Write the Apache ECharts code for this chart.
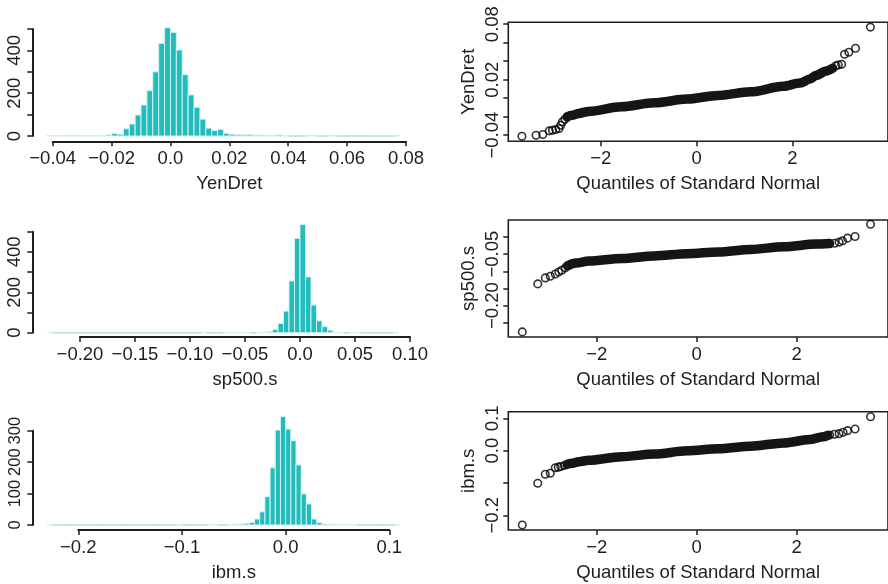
<!DOCTYPE html>
<html><head><meta charset="utf-8">
<script src="https://cdn.jsdelivr.net/npm/echarts@6/dist/echarts.min.js"></script>
<style>html,body{margin:0;padding:0;background:#fff}#c{width:888px;height:584px}</style>
</head><body><div id="c"></div>
<script>
// ---------------- DATA ----------------
const varNames = ['YenDret', 'sp500.s', 'ibm.s'];
const qqXName = 'Quantiles of Standard Normal';

// histogram bins: first break, bin width, counts
const yenBreakStart = -0.042, yenBreakWidth = 0.002;
const yenCounts = [2,1,1,3,3,1,1,1,1,2, 5,11,8,34,56,98,145,212,300,433,
  506,484,402,287,192,134,79,37,25,30, 12,8,6,5,6,4,4,3,3,5,
  1,0,0,0,1,1,0,0,1,0, 0,0,0,0,0,0,0,0,0,1];
const spBreakStart = -0.230, spBreakWidth = 0.005;
const spCounts = [1,0,0,0,0,0,0,0,0,0, 0,0,0,0,0,0,0,0,0,0,
  0,0,0,0,0,0,0,0,1,0, 0,0,1,1,1,1,1,0,1,3,
  5,16,46,107,256,467,536,276,137,59, 30,12,3,1,0,1,1,0,0,0, 0,0,0,1];
const ibmBreakStart = -0.230, ibmBreakWidth = 0.005;
const ibmCounts = [1,0,0,0,0,0,0,0,0,0, 0,0,0,0,0,0,0,0,0,0,
  0,0,0,0,0,1,0,0,0,0, 0,1,1,0,0,2,2,3,5,8,
  19,42,90,182,302,345,305,268,191,99, 67,19,8,3,2,2,1,1,1,1,
  0,0,0,0,0,0,0,1];

// histogram axis ticks / labels
const yenHistXTicks = [-0.04,-0.02,0,0.02,0.04,0.06,0.08];
const yenHistXLabels = ['\u22120.04','\u22120.02','0.0','0.02','0.04','0.06','0.08'];
const spHistXTicks = [-0.20,-0.15,-0.10,-0.05,0,0.05,0.10];
const spHistXLabels = ['\u22120.20','\u22120.15','\u22120.10','\u22120.05','0.0','0.05','0.10'];
const ibmHistXTicks = [-0.2,-0.1,0,0.1];
const ibmHistXLabels = ['\u22120.2','\u22120.1','0.0','0.1'];
const histYTicks500 = [0,100,200,300,400,500];
const histYLabelVals500 = [0,200,400];
const histYLabels500 = ['0','200','400'];
const histYTicks300 = [0,100,200,300];
const histYLabels300 = ['0','100','200','300'];

// QQ plots: individually visible points and the dense central run
const yenQQPoints = [[-3.645,-0.0411],[-3.35,-0.0400],[-3.21,-0.0393],[-3.076,-0.0353],[-3.008,-0.0346],
  [-2.938,-0.0338],[-2.87,-0.0327],[-2.836,-0.0292],[-2.802,-0.0256],[-2.747,-0.0227],
  [2.91,0.0351],[2.96,0.0359],[3.03,0.0366],[3.09,0.0475],[3.18,0.0497],[3.32,0.0540],[3.63,0.0768]];
const yenQQBand = [[-2.70,-0.0202],[-2.60,-0.0185],[-2.46,-0.0165],[-2.254,-0.0143],[-1.569,-0.0093],
  [-0.884,-0.0050],[-0.199,-0.0010],[0.445,0.0030],[1.13,0.0069],[1.81,0.0128],[2.16,0.0164],
  [2.37,0.0207],[2.50,0.0247],[2.71,0.0294],[2.84,0.0323]];
const spQQPoints = [[-3.49,-0.2767],[-3.18,-0.1367],[-3.03,-0.1193],[-2.93,-0.1146],[-2.83,-0.108],
  [-2.76,-0.102],[-2.70,-0.097],[-2.63,-0.090],[2.76,-0.018],[2.85,-0.015],[2.92,-0.0112],
  [3.02,-0.0033],[3.17,0.0013],[3.48,0.0372]];
const spQQBand = [[-2.58,-0.084],[-2.42,-0.076],[-2.16,-0.070],[-1.50,-0.0628],[-0.85,-0.0552],
  [-0.19,-0.0488],[0.43,-0.0436],[1.08,-0.0364],[1.74,-0.0286],[2.39,-0.0205],[2.66,-0.019]];
const ibmQQPoints = [[-3.49,-0.230],[-3.18,-0.101],[-3.03,-0.073],[-2.93,-0.070],[-2.83,-0.0526],
  [-2.77,-0.051],[-2.72,-0.049],[-2.65,-0.046],[2.66,0.0486],[2.76,0.0507],[2.85,0.0527],
  [2.93,0.057],[3.02,0.062],[3.17,0.067],[3.48,0.105]];
const ibmQQBand = [[-2.59,-0.042],[-2.49,-0.039],[-2.36,-0.034],[-2.16,-0.0298],[-1.50,-0.0185],
  [-0.85,-0.0103],[-0.19,-0.0004],[0.43,0.0062],[1.08,0.014],[1.74,0.024],[2.26,0.0347],
  [2.53,0.0433],[2.62,0.047]];

const qqXTicks = [-2,0,2];
const qqXLabels = ['\u22122','0','2'];
const yenQQYTicks = [-0.04,-0.02,0,0.02,0.04,0.06,0.08];
const yenQQYLabelVals = [-0.04,0.02,0.08];
const yenQQYLabels = ['\u22120.04','0.02','0.08'];
const spQQYTicks = [-0.25,-0.20,-0.15,-0.10,-0.05,0];
const spQQYLabelVals = [-0.20,-0.05];
const spQQYLabels = ['\u22120.20','\u22120.05'];
const ibmQQYTicks = [-0.2,-0.1,0,0.1];
const ibmQQYLabelVals = [-0.2,0,0.1];
const ibmQQYLabels = ['\u22120.2','0.0','0.1'];

// ---------------- STYLE / BUILD ----------------
const FONT = "'Liberation Sans', Arial, Helvetica, sans-serif";
const INK = '#1e1e1e';
const FS = 18.5;
const HIST_FILL = '#22bcbc';
const HIST_EDGE = '#d2f1f1';
const HIST_BASE = '#b8dede';

function labeler(vals, labs) {
  return function (v) {
    for (let i = 0; i < vals.length; i++) if (Math.abs(v - vals[i]) < 1e-9) return labs[i];
    return '';
  };
}
function histBins(start, width, counts) {
  return counts.map((c, i) => [start + i * width, start + (i + 1) * width, c]);
}
function histRender(params, api) {
  const l = api.value(0), r = api.value(1), c = api.value(2);
  const a = api.coord([l, 0]), b = api.coord([r, c]);
  if (c <= 0) {
    return { type: 'line', shape: { x1: a[0], y1: a[1], x2: b[0], y2: a[1] },
      style: { stroke: HIST_BASE, lineWidth: 1.6 } };
  }
  return { type: 'rect', shape: { x: a[0], y: b[1], width: b[0] - a[0], height: a[1] - b[1] },
    style: { fill: HIST_FILL, stroke: HIST_EDGE, lineWidth: 1 } };
}

const textBase = { fontFamily: FONT, fontSize: FS, color: INK };
const tickStyle = { show: true, length: 5, lineStyle: { color: INK, width: 1.5 } };

const grids = [], xAxes = [], yAxes = [], series = [];

function addHist(g, xr, yr, xTicks, xLabels, yTicks, yLabVals, yLabs, name, xOff, yOff, start, width, counts, yFs) {
  const gi = grids.length;
  grids.push(g);
  xAxes.push({ gridIndex: gi, type: 'value', position: 'bottom', min: xr[0], max: xr[1], offset: xOff,
    axisLine: { show: true, onZero: false, lineStyle: { color: INK, width: 2 } },
    axisTick: Object.assign({ customValues: xTicks }, tickStyle),
    axisLabel: Object.assign({ customValues: xTicks, margin: 8, formatter: labeler(xTicks, xLabels) }, textBase),
    splitLine: { show: false },
    name: name, nameLocation: 'middle', nameGap: 33, nameTextStyle: textBase });
  yAxes.push({ gridIndex: gi, type: 'value', position: 'left', min: yr[0], max: yr[1], offset: yOff,
    axisLine: { show: true, onZero: false, lineStyle: { color: INK, width: 2 } },
    axisTick: Object.assign({ customValues: yTicks }, tickStyle),
    axisLabel: Object.assign({}, textBase, { customValues: yLabVals, rotate: 90, margin: 8, fontSize: yFs,
      formatter: labeler(yLabVals, yLabs) }),
    splitLine: { show: false } });
  series.push({ type: 'custom', xAxisIndex: gi, yAxisIndex: gi, clip: false, silent: true,
    renderItem: histRender, data: histBins(start, width, counts) });
}

function addQQ(g, xr, yr, yTicks, yLabVals, yLabs, name, band, pts) {
  const gi = grids.length;
  grids.push(Object.assign({ show: true, borderColor: INK, borderWidth: 1.6, backgroundColor: 'transparent' }, g));
  xAxes.push({ gridIndex: gi, type: 'value', position: 'bottom', min: xr[0], max: xr[1],
    axisLine: { show: false, onZero: false },
    axisTick: Object.assign({ customValues: qqXTicks }, tickStyle),
    axisLabel: Object.assign({ customValues: qqXTicks, margin: 8, formatter: labeler(qqXTicks, qqXLabels) }, textBase),
    splitLine: { show: false },
    name: qqXName, nameLocation: 'middle', nameGap: 33, nameTextStyle: textBase });
  yAxes.push({ gridIndex: gi, type: 'value', position: 'left', min: yr[0], max: yr[1],
    axisLine: { show: false, onZero: false },
    axisTick: Object.assign({ customValues: yTicks }, tickStyle),
    axisLabel: Object.assign({ customValues: yLabVals, rotate: 90, margin: 6, formatter: labeler(yLabVals, yLabs) }, textBase),
    splitLine: { show: false },
    name: name, nameLocation: 'middle', nameRotate: 90, nameGap: 30, nameTextStyle: textBase });
  series.push({ type: 'line', xAxisIndex: gi, yAxisIndex: gi, data: band, showSymbol: false, silent: true,
    smooth: 0.3, smoothMonotone: 'x',
    lineStyle: { color: '#151515', width: 9.5, cap: 'round', join: 'round' } });
  series.push({ type: 'scatter', xAxisIndex: gi, yAxisIndex: gi, data: pts, silent: true,
    symbol: 'circle', symbolSize: 7.5,
    itemStyle: { color: 'rgba(0,0,0,0)', borderColor: '#000', borderWidth: 1.6 } });
}

addHist({ left: 52.7, top: 29, width: 353.3, height: 107 }, [-0.04, 0.08], [0, 500],
  yenHistXTicks, yenHistXLabels, histYTicks500, histYLabelVals500, histYLabels500, varNames[0], 5.3, 20.4,
  yenBreakStart, yenBreakWidth, yenCounts, FS);
addHist({ left: 80, top: 231.7, width: 330, height: 101 }, [-0.20, 0.10], [0, 500],
  spHistXTicks, spHistXLabels, histYTicks500, histYLabelVals500, histYLabels500, varNames[1], 4.3, 47.7,
  spBreakStart, spBreakWidth, spCounts, FS);
addHist({ left: 78.3, top: 430.7, width: 311, height: 94.3 }, [-0.2, 0.1], [0, 300],
  ibmHistXTicks, ibmHistXLabels, histYTicks300, histYTicks300, histYLabels300, varNames[2], 5, 46,
  ibmBreakStart, ibmBreakWidth, ibmCounts, 16.5);

addQQ({ left: 508.3, top: 22.3, width: 386, height: 119 }, [-3.93, 3.93 + 3.3 / 48.67], [-0.0466, 0.0820],
  yenQQYTicks, yenQQYLabelVals, yenQQYLabels, varNames[0], yenQQBand, yenQQPoints);
addQQ({ left: 508.3, top: 220, width: 386, height: 117 }, [-3.77, 3.77 + 3 / 50.8], [-0.2916, 0.0496],
  spQQYTicks, spQQYLabelVals, spQQYLabels, varNames[1], spQQBand, spQQPoints);
addQQ({ left: 508.3, top: 411.7, width: 386, height: 118.3 }, [-3.77, 3.77 + 3 / 50.8], [-0.2455, 0.1207],
  ibmQQYTicks, ibmQQYLabelVals, ibmQQYLabels, varNames[2], ibmQQBand, ibmQQPoints);

const chart = echarts.init(document.getElementById('c'), null, { renderer: 'canvas' });
chart.setOption({ animation: false, backgroundColor: '#ffffff', grid: grids, xAxis: xAxes, yAxis: yAxes, series: series });
</script></body></html>
